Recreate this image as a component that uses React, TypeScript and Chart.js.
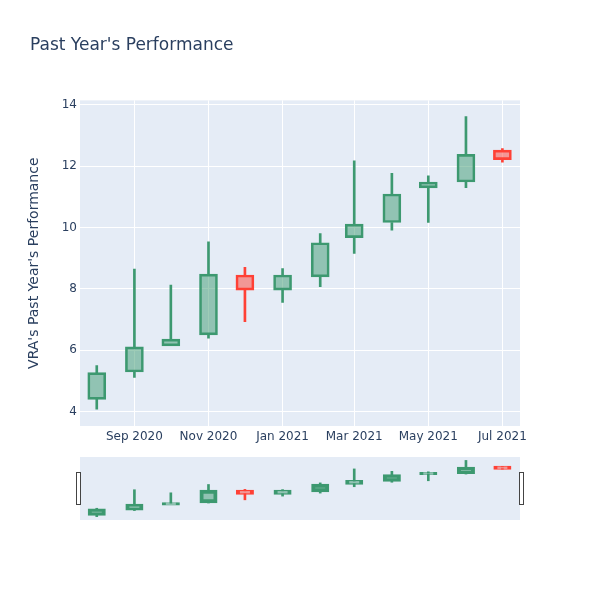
import { useEffect, useRef } from "react";
import { Chart, registerables } from "chart.js";

Chart.register(...registerables);

// ---- data ----
const dates = [
  "2020-08-01", "2020-09-01", "2020-10-01", "2020-11-01", "2020-12-01", "2021-01-01",
  "2021-02-01", "2021-03-01", "2021-04-01", "2021-05-01", "2021-06-01", "2021-07-01",
];
const openVals = [4.40, 5.29, 6.14, 6.50, 8.45, 7.96, 8.39, 9.67, 10.16, 11.29, 11.48, 12.52];
const highVals = [5.50, 8.64, 8.12, 9.53, 8.70, 8.66, 9.80, 12.17, 11.76, 11.68, 13.61, 12.57];
const lowVals = [4.08, 5.11, 6.14, 6.39, 6.93, 7.56, 8.07, 9.15, 9.91, 10.16, 11.30, 12.13];
const closeVals = [5.27, 6.11, 6.36, 8.48, 7.96, 8.45, 9.50, 10.11, 11.09, 11.48, 12.38, 12.21];

const tickDates = ["2020-09-01", "2020-11-01", "2021-01-01", "2021-03-01", "2021-05-01", "2021-07-01"];
const tickLabels = ["Sep 2020", "Nov 2020", "Jan 2021", "Mar 2021", "May 2021", "Jul 2021"];
const yTicks = [4, 6, 8, 10, 12, 14];

const TITLE = "Past Year's Performance";
const Y_TITLE = "VRA's Past Year's Performance";

// ---- helpers ----
const dayOf = (d: string) => Date.parse(d + "T00:00:00Z") / 86400000;
const xs = dates.map(dayOf);
const tickXs = tickDates.map(dayOf);
const X_MIN = xs[0] - 13.8;
const X_MAX = xs[xs.length - 1] + 14.5;
const Y_MIN = 3.53;
const Y_MAX = 14.14;

const UP_LINE = "#3D9970";
const UP_FILL = "rgba(61,153,112,0.5)";
const DN_LINE = "#FF4136";
const DN_FILL = "rgba(255,65,54,0.5)";
const FONT = "'DejaVu Sans', verdana, arial, sans-serif";
const TXT = "#2a3f5f";
const BG = "#E5ECF6";

const isUp = closeVals.map((c, i) => c >= openVals[i]);
const lineColors = isUp.map((u) => (u ? UP_LINE : DN_LINE));
const fillColors = isUp.map((u) => (u ? UP_FILL : DN_FILL));

function buildDatasets(mini: boolean) {
  const body = xs.map((x, i) => ({ x, y: [openVals[i], closeVals[i]] }));
  const upper = xs.map((x, i) => {
    const top = Math.max(openVals[i], closeVals[i]);
    return { x, y: highVals[i] > top ? [top, highVals[i]] : null };
  });
  const lower = xs.map((x, i) => {
    const bot = Math.min(openVals[i], closeVals[i]);
    return { x, y: lowVals[i] < bot ? [lowVals[i], bot] : null };
  });
  const common = { grouped: false, borderSkipped: false as const };
  return [
    {
      ...common,
      data: body,
      backgroundColor: fillColors,
      borderColor: lineColors,
      borderWidth: 2,
      barThickness: mini ? 16 : 18,
      inflateAmount: mini ? 1 : "auto",
    },
    {
      ...common,
      data: upper,
      backgroundColor: lineColors,
      borderWidth: 0,
      barThickness: 2,
    },
    {
      ...common,
      data: lower,
      backgroundColor: lineColors,
      borderWidth: 0,
      barThickness: 2,
    },
  ];
}

const bgPlugin = {
  id: "plotBg",
  beforeDraw(chart: any) {
    const { ctx, chartArea } = chart;
    ctx.save();
    ctx.fillStyle = BG;
    ctx.fillRect(chartArea.left, chartArea.top, chartArea.right - chartArea.left, chartArea.bottom - chartArea.top);
    ctx.restore();
  },
};

const handlePlugin = {
  id: "sliderHandles",
  afterDraw(chart: any) {
    const { ctx, chartArea } = chart;
    const mid = (chartArea.top + chartArea.bottom) / 2;
    ctx.save();
    ctx.fillStyle = "#ffffff";
    ctx.strokeStyle = "#444444";
    ctx.lineWidth = 1;
    [chartArea.left - 1.5, chartArea.right + 1.5].forEach((cx) => {
      ctx.fillRect(cx - 2, mid - 16, 4, 32);
      ctx.strokeRect(cx - 2, mid - 16, 4, 32);
    });
    ctx.restore();
  },
};

export default function App() {
  const mainRef = useRef<HTMLCanvasElement | null>(null);
  const sliderRef = useRef<HTMLCanvasElement | null>(null);

  useEffect(() => {
    if (!mainRef.current || !sliderRef.current) return;

    const main = new Chart(mainRef.current, {
      type: "bar",
      data: { datasets: buildDatasets(false) as any },
      plugins: [bgPlugin],
      options: {
        responsive: false,
        animation: false,
        layout: { padding: { left: 30, right: 80, top: 0, bottom: 0 } },
        plugins: {
          legend: { display: false },
          tooltip: { enabled: false },
          title: {
            display: true,
            text: TITLE,
            align: "start",
            color: TXT,
            font: { family: FONT, size: 17, weight: "normal" },
            padding: { top: 35, bottom: 45 },
          },
        },
        scales: {
          x: {
            type: "linear",
            min: X_MIN,
            max: X_MAX,
            offset: false,
            grid: { offset: false, color: "#ffffff", lineWidth: 1, drawTicks: false },
            border: { display: false },
            afterBuildTicks: (scale: any) => {
              scale.ticks = tickXs.map((v) => ({ value: v }));
            },
            afterFit: (scale: any) => {
              scale.height = 24;
            },
            ticks: {
              autoSkip: false,
              maxRotation: 0,
              padding: 4,
              color: TXT,
              font: { family: FONT, size: 12 },
              callback: (v: any) => {
                const i = tickXs.indexOf(Number(v));
                return i >= 0 ? tickLabels[i] : "";
              },
            },
          },
          y: {
            type: "linear",
            min: Y_MIN,
            max: Y_MAX,
            grid: { color: "#ffffff", lineWidth: 1, drawTicks: false },
            border: { display: false },
            afterBuildTicks: (scale: any) => {
              scale.ticks = yTicks.map((v) => ({ value: v }));
            },
            afterFit: (scale: any) => {
              scale.width = 50;
            },
            title: {
              display: true,
              text: Y_TITLE,
              color: TXT,
              font: { family: FONT, size: 14 },
              padding: { top: -4, bottom: 0 },
            },
            ticks: {
              padding: 3,
              color: TXT,
              font: { family: FONT, size: 12 },
              callback: (v: any) => String(v),
            },
          },
        },
      } as any,
    });

    const slider = new Chart(sliderRef.current, {
      type: "bar",
      data: { datasets: buildDatasets(true) as any },
      plugins: [bgPlugin, handlePlugin],
      options: {
        responsive: false,
        animation: false,
        layout: { padding: { left: 80, right: 80, top: 7, bottom: 30 } },
        plugins: {
          legend: { display: false },
          tooltip: { enabled: false },
          title: { display: false },
        },
        scales: {
          x: { type: "linear", min: X_MIN, max: X_MAX, offset: false, display: false, grid: { offset: false } },
          y: { type: "linear", min: Y_MIN - 0.02, max: Y_MAX + 0.05, display: false },
        },
      } as any,
    });

    return () => {
      main.destroy();
      slider.destroy();
    };
  }, []);

  return (
    <div style={{ position: "absolute", left: 0, top: 0, width: 600, height: 600, background: "#ffffff" }}>
      <canvas ref={mainRef} width={600} height={450} style={{ position: "absolute", left: 0, top: 0, display: "block" }} />
      <canvas ref={sliderRef} width={600} height={100} style={{ position: "absolute", left: 0, top: 450, display: "block" }} />
    </div>
  );
}
